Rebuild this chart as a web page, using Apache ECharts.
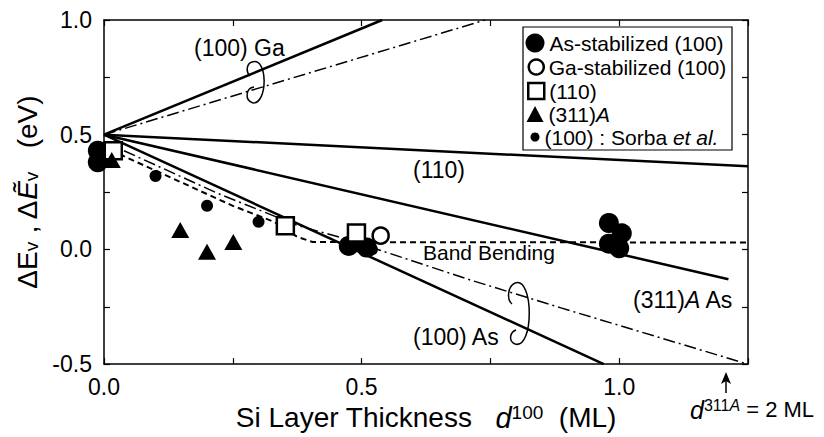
<!DOCTYPE html>
<html><head><meta charset="utf-8">
<script src="https://cdn.jsdelivr.net/npm/echarts@6/dist/echarts.min.js"></script>
<style>html,body{margin:0;padding:0;background:#fff}#c{width:824px;height:437px}</style>
</head><body><div id="c"></div>
<script>
// ---- data ----
var asStabilized = [[-0.012,0.43],[-0.012,0.38],[0.475,0.015],[0.51,0.008],[0.98,0.115],[1.005,0.07],[0.98,0.025],[1.0,0.005]];
var gaStabilized = [[0.537,0.06]];
var s110 = [[0.018,0.43],[0.352,0.103],[0.49,0.072]];
var s311A = [[0.015,0.39],[0.148,0.085],[0.2,-0.01],[0.251,0.032]];
var sorba = [[0.1,0.32],[0.2,0.19],[0.3,0.12],[0.52,0.0]];
var line100GaSolid = [[0,0.5],[0.54,1.0]];
var line100GaDashDot = [[0,0.5],[0.74,1.0]];
var line110 = [[0,0.5],[1.25,0.362]];
var line311AAs = [[0,0.5],[1.212,-0.13]];
var line100AsSolid = [[0,0.5],[0.97,-0.5]];
var line100AsDashDot = [[0,0.47],[0.22,0.245],[0.375,0.105],[0.47,0.045],[0.712,-0.134],[0.887,-0.255],[1.245,-0.497]];
var bandBending = [[0.03,0.415],[0.25,0.19],[0.33,0.12],[0.375,0.055],[0.405,0.032],[1.25,0.03]];
var xTicks = [0, 0.5, 1.0];
var yTicks = [-0.5, 0, 0.5, 1.0];
var legendNames = ['As-stabilized (100)','Ga-stabilized (100)','(110)','(311)A','(100) : Sorba et al.'];

var FONT = 'Liberation Sans, Arial, Helvetica, sans-serif';
var chart = echarts.init(document.getElementById('c'), null, {renderer:'svg'});
function fmt(list){return function(v){for(var i=0;i<list.length;i++){if(Math.abs(list[i]-v)<1e-6)return v.toFixed(1);}return '';};}
var legendRich = { i:{fontStyle:'italic',fontSize:21,fontFamily:FONT,color:'#000'} };
var annRich = { i:{fontStyle:'italic',fontSize:23,fontFamily:FONT,fill:'#000'} };
var legendFormatter = function(n){
  if(n==='(311)A') return '(311){i|A}';
  if(n==='(100) : Sorba et al.') return '(100) : Sorba {i|et al.}';
  return n;
};
var legendRows = [
  {name:legendNames[0], icon:'circle', w:19, h:19, y:43, itemStyle:{color:'#000',opacity:1}},
  {name:legendNames[1], icon:'circle', w:15, h:15, y:67, itemStyle:{color:'#fff',borderColor:'#000',borderWidth:2.5,opacity:1}},
  {name:legendNames[2], icon:'rect', w:16, h:16, y:91, itemStyle:{color:'#fff',borderColor:'#000',borderWidth:2.5,opacity:1}},
  {name:legendNames[3], icon:'triangle', w:17, h:16, y:114, itemStyle:{color:'#000',opacity:1}},
  {name:legendNames[4], icon:'circle', w:9, h:9, y:137, itemStyle:{color:'#000',opacity:1}}
];
var legends = legendRows.map(function(r){
  return {
    data:[{name:r.name, icon:r.icon, itemStyle:r.itemStyle}],
    left: 535 - r.w/2, top: r.y - 11, itemWidth:r.w, itemHeight:r.h, padding:0,
    selectedMode:false, formatter:legendFormatter,
    textStyle:{fontSize:21,fontFamily:FONT,color:'#000',lineHeight:22,rich:legendRich}
  };
});
function lineSeries(name,data,type,width){
  return {name:name,type:'line',data:data,showSymbol:false,symbol:'none',silent:true,z:2,
    lineStyle:{color:'#000',width:width,type:type,opacity:1}};
}
var DASHDOT=[12,4,2,4];
var axisCommon = function(){
  return {
    axisLine:{onZero:false,lineStyle:{color:'#000',width:1.5}},
    axisTick:{inside:true,length:6,lineStyle:{color:'#000',width:1.2}},
    splitLine:{show:false}
  };
};
var option = {
  animation:false,
  backgroundColor:'#fff',
  textStyle:{fontFamily:FONT},
  grid:{left:104,right:76,top:20,bottom:69},
  legend:legends,
  xAxis:[Object.assign(axisCommon(),{
    type:'value',min:0,max:1.25,interval:0.25,position:'bottom',
    name:'Si Layer Thickness   {i|d}{sup|100}  (ML)',nameLocation:'middle',nameGap:26,
    nameTextStyle:{fontSize:28,color:'#000',fontFamily:FONT,rich:{i:{fontStyle:'italic',fontSize:29,color:'#000',fontFamily:FONT},sup:{fontSize:19,verticalAlign:'top',color:'#000',fontFamily:FONT}}},
    axisLabel:{formatter:fmt(xTicks),fontSize:23,color:'#000',margin:11,fontFamily:FONT}
  }),Object.assign(axisCommon(),{
    type:'value',min:0,max:1.25,interval:0.25,position:'top',
    axisLabel:{show:false}
  })],
  yAxis:[Object.assign(axisCommon(),{
    type:'value',min:-0.5,max:1.0,interval:0.25,position:'left',
    name:'ΔE{sub|v} , Δ{i|Ẽ}{sub|v}   (eV)',nameLocation:'middle',nameGap:48,nameRotate:90,
    nameTextStyle:{fontSize:28,color:'#000',fontFamily:FONT,rich:{i:{fontStyle:'italic',fontSize:28,color:'#000',fontFamily:FONT},sub:{fontSize:19,verticalAlign:'bottom',color:'#000',fontFamily:FONT}}},
    axisLabel:{formatter:fmt(yTicks),fontSize:23,color:'#000',margin:12,fontFamily:FONT}
  }),Object.assign(axisCommon(),{
    type:'value',min:-0.5,max:1.0,interval:0.25,position:'right',
    axisLabel:{show:false}
  })],
  series:[
    lineSeries('(100) Ga solid',line100GaSolid,'solid',2.5),
    lineSeries('(100) Ga dash-dot',line100GaDashDot,DASHDOT,1.5),
    lineSeries('(110) line',line110,'solid',2.5),
    lineSeries('(311)A As line',line311AAs,'solid',2.5),
    lineSeries('(100) As solid',line100AsSolid,'solid',2.5),
    lineSeries('(100) As dash-dot',line100AsDashDot,DASHDOT,1.5),
    lineSeries('Band Bending',bandBending,[6,4],2),
    {name:legendNames[0],type:'scatter',data:asStabilized,symbol:'circle',symbolSize:20,clip:false,z:5,itemStyle:{color:'#000',opacity:1}},
    {name:legendNames[1],type:'scatter',data:gaStabilized,symbol:'circle',symbolSize:16,clip:false,z:5,itemStyle:{color:'#fff',borderColor:'#000',borderWidth:2.5,opacity:1}},
    {name:legendNames[2],type:'scatter',data:s110,symbol:'rect',symbolSize:17,clip:false,z:5,itemStyle:{color:'#fff',borderColor:'#000',borderWidth:2.5,opacity:1}},
    {name:legendNames[3],type:'scatter',data:s311A,symbol:'triangle',symbolSize:[18,16],clip:false,z:5,itemStyle:{color:'#000',opacity:1}},
    {name:legendNames[4],type:'scatter',data:sorba,symbol:'circle',symbolSize:12,clip:false,z:5,itemStyle:{color:'#000',opacity:1}}
  ],
  graphic:[
    {type:'rect',shape:{x:523,y:27,width:209,height:123},style:{fill:'none',stroke:'#000',lineWidth:1.2},z:10,silent:true},
    {type:'text',left:194,top:36,style:{text:'(100) Ga',fontSize:23,fontFamily:FONT,fill:'#000'}},
    {type:'text',left:413,top:158,style:{text:'(110)',fontSize:23,fontFamily:FONT,fill:'#000'}},
    {type:'text',left:423,top:242,style:{text:'Band Bending',fontSize:21,fontFamily:FONT,fill:'#000'}},
    {type:'text',left:413,top:325,style:{text:'(100) As',fontSize:23,fontFamily:FONT,fill:'#000'}},
    {type:'text',left:633,top:288,style:{text:'(311){i|A} As',fontSize:23,fontFamily:FONT,fill:'#000',rich:annRich}},
    {type:'text',left:690,top:397,style:{text:'{i|d}{sup|311}{supi|A} = 2 ML',fontSize:22,fontFamily:FONT,fill:'#000',
      rich:{i:{fontStyle:'italic',fontSize:25,fill:'#000',fontFamily:FONT},sup:{fontSize:16,verticalAlign:'top',fill:'#000',fontFamily:FONT},supi:{fontSize:16,fontStyle:'italic',verticalAlign:'top',fill:'#000',fontFamily:FONT}}}},
    {type:'line',shape:{x1:726,y1:393,x2:726,y2:376},style:{stroke:'#000',lineWidth:1.5}},
    {type:'polygon',shape:{points:[[726,372],[721,384],[726,381],[731,384]]},style:{fill:'#000'}},
    {type:'bezierCurve',shape:{x1:252,y1:62,cpx1:268,cpy1:56,cpx2:268,cpy2:104,x2:253,y2:103},style:{stroke:'#000',lineWidth:1.5,fill:'none'}},
    {type:'bezierCurve',shape:{x1:253,y1:103,cpx1:244,cpy1:100,cpx2:246,cpy2:88,x2:254,y2:87},style:{stroke:'#000',lineWidth:1.5,fill:'none'}},
    {type:'bezierCurve',shape:{x1:252,y1:62,cpx1:246,cpy1:64,cpx2:246,cpy2:72,x2:250,y2:76},style:{stroke:'#000',lineWidth:1.5,fill:'none'}},
    {type:'bezierCurve',shape:{x1:515,y1:283,cpx1:534,cpy1:276,cpx2:534,cpy2:350,x2:515,y2:344},style:{stroke:'#000',lineWidth:1.5,fill:'none'}},
    {type:'bezierCurve',shape:{x1:515,y1:344,cpx1:508,cpy1:341,cpx2:510,cpy2:332,x2:516,y2:330},style:{stroke:'#000',lineWidth:1.5,fill:'none'}},
    {type:'bezierCurve',shape:{x1:515,y1:283,cpx1:507,cpy1:287,cpx2:507,cpy2:300,x2:512,y2:304},style:{stroke:'#000',lineWidth:1.5,fill:'none'}}
  ]
};
chart.setOption(option);
</script></body></html>
